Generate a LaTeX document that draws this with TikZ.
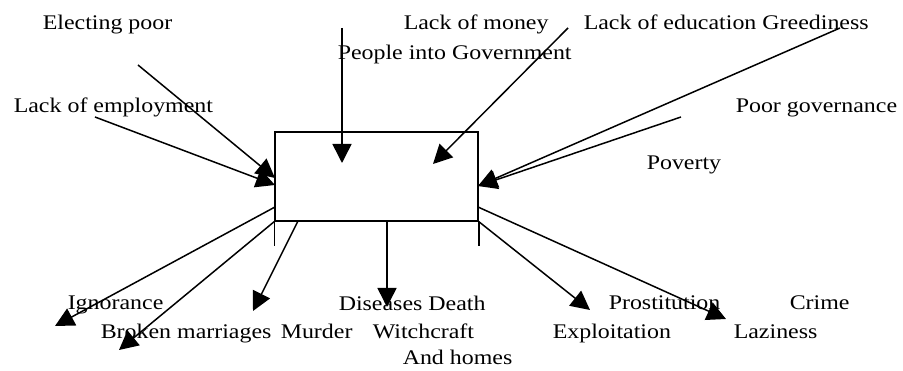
\documentclass[tikz,border=0pt]{standalone}
\usepackage{fontspec}
\setmainfont{Liberation Serif}[FakeStretch=1.15]
\usetikzlibrary{arrows.meta,positioning}

\begin{document}
\begin{tikzpicture}[x=1pt,y=-1pt,>={Triangle[length=19pt,width=19pt]},line width=1.5pt,
    lbl/.style={anchor=base west,inner sep=0pt,font=\fontsize{20.8}{24}\selectfont}]
  \useasboundingbox (0,0) rectangle (903,371);
  % central box with its two legs
  \node[draw,minimum width=203pt,minimum height=89pt,inner sep=0pt] (core) at (376.5,176.5) {};
  \coordinate (legl) at ([yshift=-24pt]core.south west);
  \coordinate (legr) at ([yshift=-24pt]core.south east);
  \draw (core.south west) -- (legl);
  \draw (core.south east) -- (legr);
  % causes (into the box) and effects (out of it)
  \foreach \n/\s/\t in {elect/{138,65}/{275,178},employ/{95,117}/{275,185},
                        people/{342,28}/{342,163},money/{568,28}/{433,164},
                        greed/{840,28}/{478,186},govern/{681,117}/{478,186},
                        ignor/{275,207}/{55,326},broken/{275,221}/{119,350},
                        murder/{298,221}/{253,311},disease/{387,221}/{387,307},
                        exploit/{478,221}/{590,310},lazy/{478,207}/{726,319}}
  {
    \coordinate (\n-s) at (\s);
    \coordinate (\n-t) at (\t);
    \draw[->] (\n-s) -- (\n-t);
  }
  % labels
  \foreach \n/\p/\txt in {epoor/{42,30}/Electing poor,money/{403,30}/Lack of money,
                          people/{337,60}/People into Government,
                          educ/{583,30}/Lack of education Greediness,
                          govern/{735,113}/Poor governance,poverty/{646,170}/Poverty,
                          employ/{13,113}/Lack of employment,ignor/{67,310}/Ignorance,
                          broken/{100,339}/Broken marriages,murder/{280,339}/Murder,
                          disease/{338,311}/Diseases Death,witch/{372,339}/Witchcraft,
                          homes/{402,365}/And homes,exploit/{552,339}/Exploitation,
                          prost/{608,310}/Prostitution,crime/{789,310}/Crime,
                          lazy/{733,339}/Laziness}
    \node[lbl] (\n-lbl) at (\p) {\txt};
\end{tikzpicture}
\end{document}
